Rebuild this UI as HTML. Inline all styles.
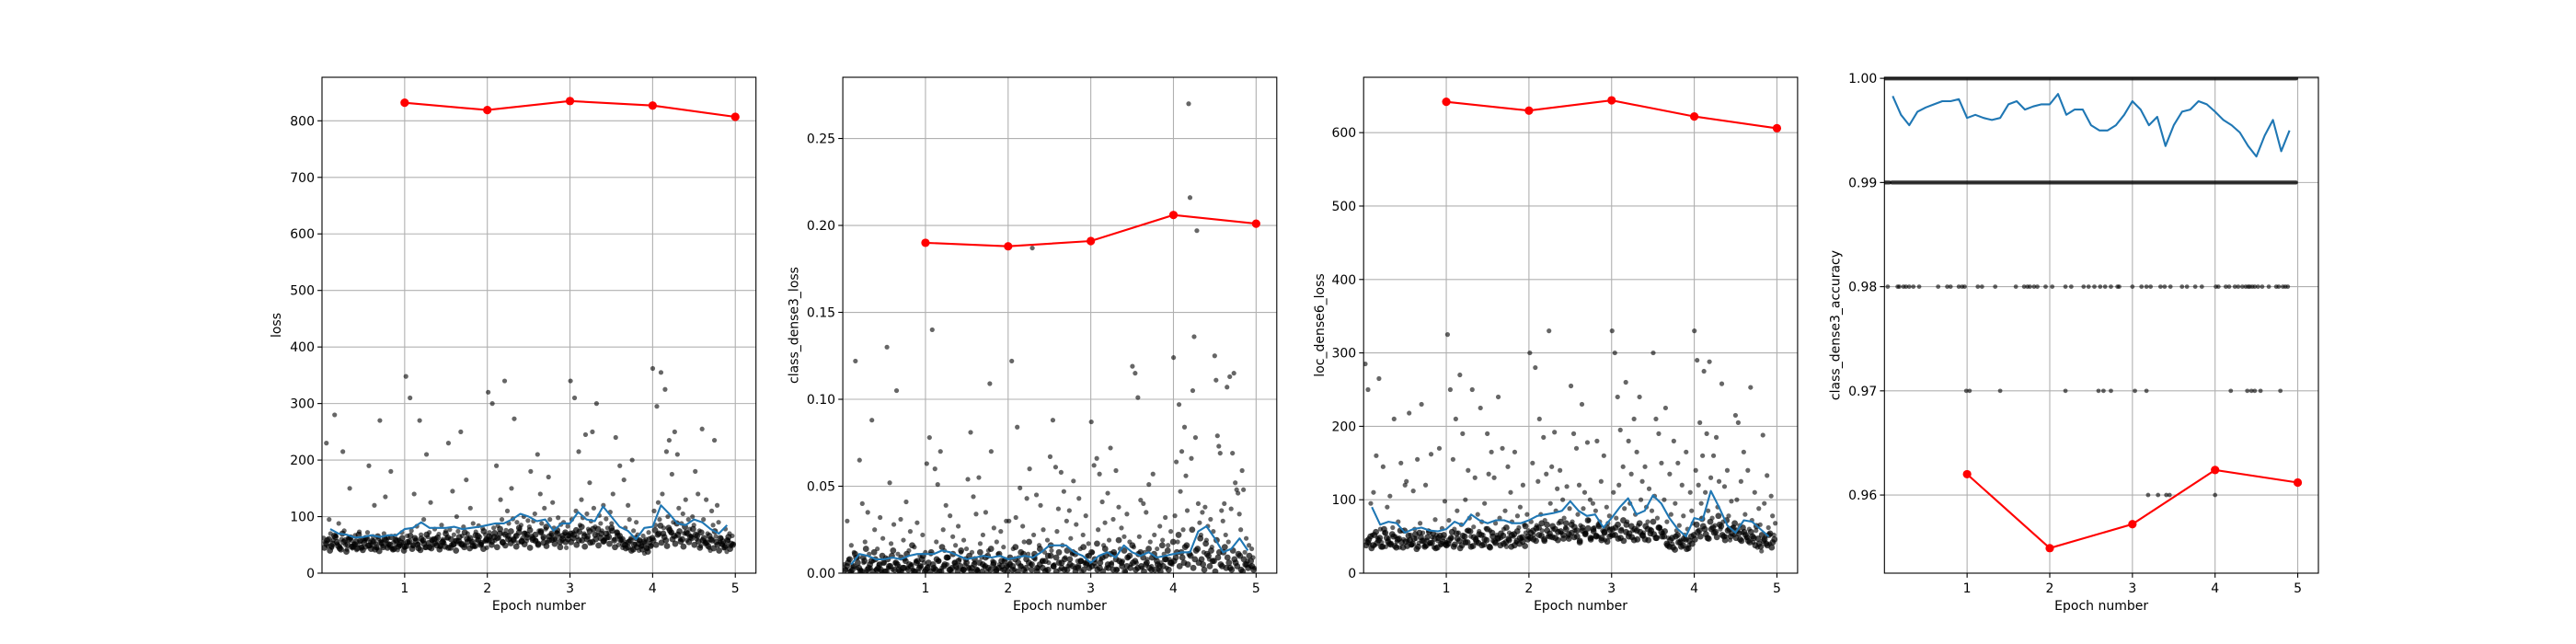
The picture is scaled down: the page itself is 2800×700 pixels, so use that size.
<!DOCTYPE html>
<html><head><meta charset="utf-8">
<style>
html,body{margin:0;padding:0;background:#fff;}
svg{display:block;font-family:"DejaVu Sans","Liberation Sans",sans-serif;}
</style></head>
<body>
<svg id="fig" width="2800" height="700" viewBox="0 0 2800 700" xmlns="http://www.w3.org/2000/svg">
<rect width="2800" height="700" fill="#fff"/>
</svg>
<script>
// ---- data ----
const epochs = [1, 2, 3, 4, 5];
const xTicks = [1, 2, 3, 4, 5];

const lossEpoch = [832, 819, 835, 827, 807];
const classLossEpoch = [0.190, 0.188, 0.191, 0.206, 0.201];
const locLossEpoch = [642, 630, 644, 622, 606];
const accEpoch = [0.962, 0.9549, 0.9572, 0.9624, 0.9612];

const lossTicks = [0, 100, 200, 300, 400, 500, 600, 700, 800];
const classLossTicks = [0, 0.05, 0.10, 0.15, 0.20, 0.25];
const classLossTickLabels = ["0.00", "0.05", "0.10", "0.15", "0.20", "0.25"];
const locLossTicks = [0, 100, 200, 300, 400, 500, 600];
const accTicks = [0.96, 0.97, 0.98, 0.99, 1.00];
const accTickLabels = ["0.96", "0.97", "0.98", "0.99", "1.00"];

const lossBatch = [62,55,230,48,95,70,45,58,280,66,52,88,47,60,215,75,50,42,63,150,58,44,52,67,41,49,73,56,46,61,
58,46,72,190,55,49,65,120,52,44,61,270,57,48,70,135,53,62,47,180,43,55,66,50,41,59,48,72,54,45,
348,66,54,310,75,49,140,60,83,52,270,68,57,95,45,210,64,72,125,58,50,78,62,55,69,47,85,60,53,74,
62,230,77,50,145,68,58,100,74,52,250,66,82,49,165,70,60,115,54,88,47,73,59,84,64,51,79,56,68,45,
320,72,65,300,80,58,190,84,62,130,95,70,340,76,110,88,60,150,96,273,66,90,54,78,85,62,100,71,57,93,
82,180,66,92,105,58,210,75,140,88,62,115,78,55,170,95,68,125,80,60,72,98,64,86,57,90,70,45,83,66,
340,95,72,310,110,64,215,85,130,98,70,245,105,78,160,92,250,115,82,300,68,102,88,75,120,60,96,80,72,108,
88,140,60,240,72,50,190,58,45,165,80,55,120,95,62,200,75,52,90,68,40,57,48,66,35,60,44,72,53,49,
362,110,85,295,125,95,355,140,80,325,215,100,235,72,175,90,250,65,210,115,60,88,105,70,130,58,95,78,66,100,
85,180,60,140,75,48,255,95,55,130,70,45,40,110,85,235,65,120,90,55,62,50,44,78,38,58,70,48,66,52];
const lossBand = [52,60,48,66,55,44,70,58,50,63,47,56,68,45,53,61,49,57,42,65,54,46,59,51,64,43,58,50,62,47,
55,66,49,57,44,61,52,68,46,59,53,63,48,56,70,45,60,51,57,64,50,72,55,62,48,67,58,53,74,60,
65,56,71,62,78,54,68,60,74,58,66,80,57,70,63,76,59,68,52,72,64,82,58,70,61,76,55,66,72,60,
70,62,76,58,82,66,60,74,55,68,78,62,56,70,64,80,58,72,66,60,50,46,58,42,62,52,48,56,44,60,
62,76,68,84,70,58,80,72,66,88,74,60,82,70,64,78,68,56,72,62,54,66,58,74,50,62,56,48,64,52];
const lossBand2 = [45,58,40,52,64,48,42,55,38,60,47,51,44,57,41,62,49,43,56,46,39,53,61,45,50,42,58,47,54,40,
48,56,43,62,50,41,58,46,53,44,60,49,42,55,47,63,45,51,40,57,52,46,61,44,55,48,66,50,43,58,
58,50,64,46,70,55,49,66,53,60,47,72,56,51,68,45,62,57,50,74,54,48,65,59,52,70,46,61,55,67,
55,68,50,73,58,47,65,54,78,60,49,70,57,63,52,75,46,66,59,51,44,55,40,50,46,58,42,53,38,48,
58,50,70,54,64,48,76,60,52,68,56,47,72,55,62,50,66,45,58,53,48,60,44,55,40,52,46,58,43,50];

const classBatch = [.005,.002,.03,.008,.001,.016,.004,.012,.122,.003,.009,.065,.002,.04,.006,.018,.001,.035,.011,.003,.088,.007,.025,.002,.014,.005,.032,.001,.02,.006,
.009,.13,.003,.052,.017,.002,.028,.006,.105,.011,.004,.031,.001,.019,.008,.041,.003,.013,.024,.005,.002,.015,.007,.029,.001,.01,.004,.022,.006,.012,
.063,.004,.078,.011,.14,.002,.06,.018,.051,.007,.07,.003,.025,.013,.039,.005,.009,.033,.001,.021,.006,.016,.003,.027,.008,.012,.002,.019,.005,.014,
.054,.003,.081,.012,.044,.006,.034,.002,.055,.017,.009,.022,.004,.035,.001,.013,.109,.07,.007,.026,.003,.018,.011,.005,.024,.002,.015,.008,.03,.004,
.03,.006,.122,.014,.002,.032,.084,.009,.049,.004,.027,.018,.001,.043,.011,.06,.005,.187,.022,.008,.045,.003,.016,.039,.007,.025,.012,.002,.019,.006,
.067,.013,.088,.005,.061,.024,.037,.002,.058,.016,.047,.009,.03,.004,.036,.02,.011,.053,.003,.028,.007,.043,.014,.001,.022,.006,.033,.01,.017,.005,
.087,.012,.062,.004,.066,.025,.057,.008,.041,.016,.029,.003,.046,.019,.072,.006,.031,.011,.059,.002,.038,.014,.026,.007,.021,.001,.034,.009,.018,.005,
.119,.015,.115,.006,.101,.021,.042,.003,.04,.012,.035,.008,.051,.018,.004,.057,.022,.009,.014,.002,.027,.006,.019,.011,.032,.003,.016,.008,.024,.005,
.124,.033,.064,.018,.097,.047,.07,.025,.084,.056,.036,.27,.216,.066,.105,.136,.078,.197,.04,.029,.022,.035,.012,.038,.019,.027,.008,.031,.015,.024,
.125,.111,.079,.073,.069,.036,.03,.04,.022,.107,.018,.113,.037,.069,.115,.052,.048,.046,.034,.025,.059,.048,.012,.02,.007,.016,.004,.014,.009,.003];
const classBand = [.004,.008,.002,.011,.006,.001,.009,.014,.003,.007,.012,.002,.005,.01,.001,.008,.004,.013,.006,.002,.009,.003,.011,.005,.016,.001,.007,.004,.01,.002,
.006,.012,.003,.008,.001,.015,.005,.009,.002,.011,.004,.007,.013,.002,.006,.01,.003,.008,.001,.012,.005,.009,.003,.014,.006,.002,.011,.004,.007,.001,
.009,.004,.015,.006,.012,.002,.008,.018,.005,.011,.003,.014,.007,.001,.01,.016,.004,.009,.012,.006,.002,.013,.008,.004,.011,.003,.007,.015,.005,.01,
.012,.006,.017,.003,.009,.014,.005,.011,.002,.008,.019,.006,.013,.004,.01,.016,.007,.003,.012,.009,.005,.014,.002,.011,.007,.004,.016,.008,.013,.006,
.018,.009,.022,.012,.006,.016,.011,.025,.008,.014,.02,.005,.017,.01,.013,.007,.019,.012,.004,.015,.009,.003,.013,.006,.011,.002,.008,.005,.01,.004];
const classBand2 = [.002,.006,.001,.004,.009,.003,.001,.007,.002,.005,.001,.008,.003,.002,.006,.001,.004,.010,.002,.005,.001,.003,.007,.002,.004,.001,.006,.003,.008,.001,
.003,.001,.005,.002,.007,.001,.004,.009,.002,.003,.006,.001,.004,.002,.008,.003,.001,.005,.002,.006,.001,.004,.010,.002,.005,.001,.003,.007,.002,.004,
.005,.002,.008,.001,.004,.011,.003,.006,.002,.009,.001,.005,.003,.007,.002,.010,.004,.001,.006,.003,.008,.002,.005,.012,.001,.004,.007,.002,.006,.003,
.004,.008,.002,.006,.001,.010,.003,.005,.012,.002,.007,.004,.001,.009,.003,.006,.002,.011,.004,.001,.006,.003,.009,.002,.005,.001,.004,.008,.002,.006,
.007,.012,.004,.009,.015,.005,.010,.003,.013,.006,.008,.002,.011,.004,.007,.001,.009,.005,.012,.003,.006,.002,.008,.004,.010,.001,.005,.003,.007,.002];

const locBatch = [285,45,250,40,95,52,110,38,160,48,265,60,42,145,55,36,90,47,105,41,62,210,50,43,70,35,150,58,46,120,
125,44,218,52,38,112,60,47,155,41,68,230,55,37,120,45,58,40,162,49,35,73,52,44,170,38,61,48,98,42,
325,72,250,48,155,60,210,85,55,270,66,190,45,100,58,140,75,50,250,63,130,48,80,57,225,70,52,95,61,190,
135,58,165,44,130,68,52,240,75,48,170,60,85,36,145,55,110,70,50,165,42,78,62,90,47,120,66,55,80,58,
300,70,150,52,280,65,125,210,80,58,185,72,135,50,330,95,145,60,192,85,115,68,140,55,100,75,62,118,50,88,
255,70,190,58,170,80,120,65,230,88,110,55,178,72,100,48,95,62,85,180,50,70,125,58,160,45,90,68,78,52,
330,110,300,75,240,120,195,60,145,88,260,70,180,95,135,58,210,80,165,65,240,100,125,55,145,90,70,115,60,85,
300,105,210,75,190,62,150,55,100,225,70,48,135,80,40,180,95,58,150,65,45,120,78,52,165,60,38,110,85,68,
330,140,290,120,205,95,160,275,110,190,85,288,130,75,160,65,185,90,125,60,258,70,118,50,140,78,45,98,62,52,
215,100,205,65,125,55,165,80,48,140,60,253,72,42,110,58,35,88,66,30,188,95,50,133,62,40,105,78,52,68];
const locBand = [42,50,38,56,45,36,60,48,40,53,37,46,58,35,43,51,39,47,33,55,44,36,49,41,54,34,48,40,52,38,
45,56,39,47,34,51,42,58,36,49,43,53,38,46,60,35,50,41,47,54,40,62,45,52,38,57,48,43,64,50,
55,46,61,52,68,44,58,50,64,48,56,70,47,60,53,66,49,58,42,62,54,72,48,60,51,66,45,56,62,50,
60,52,66,48,72,56,50,64,45,58,68,52,46,60,54,70,48,62,56,50,40,36,48,32,52,42,38,46,34,50,
52,66,58,74,60,48,70,62,56,78,64,50,72,60,54,68,58,46,62,52,44,56,48,64,40,52,46,38,54,42];
const locBand2 = [38,46,34,52,41,48,36,55,43,39,50,35,47,42,58,37,45,40,53,36,49,44,38,56,41,47,35,51,43,39,
40,48,36,54,44,38,50,42,57,37,46,41,52,39,45,36,55,43,48,38,51,42,47,36,53,44,40,49,37,46,
48,58,44,62,51,46,66,54,49,60,45,57,52,68,47,55,63,50,44,58,53,61,46,57,50,64,48,55,43,59,
52,62,47,58,44,66,54,49,60,46,56,51,64,45,58,53,48,62,50,57,38,45,35,50,42,36,47,33,44,40,
46,56,50,64,53,47,60,55,49,66,52,45,58,50,62,48,54,44,56,49,42,50,38,47,36,44,40,52,35,46];

const lossMA = [78,70,68,63,64,67,64,67,67,78,80,90,80,80,80,82,78,80,82,85,88,88,95,105,100,92,95,75,88,88,108,95,92,118,100,82,75,60,80,82,120,105,88,85,95,90,78,70,85];
const classMA = [.005,.011,.01,.008,.008,.009,.008,.01,.011,.011,.011,.013,.012,.01,.008,.009,.01,.009,.01,.008,.009,.01,.009,.012,.016,.016,.016,.012,.01,.006,.01,.012,.009,.016,.012,.01,.012,.009,.01,.011,.012,.012,.024,.027,.02,.012,.014,.02,.013];
const locMA = [90,66,70,68,55,60,62,58,57,60,70,65,80,72,68,72,72,68,68,72,78,80,82,85,98,85,78,80,62,75,90,102,80,85,106,95,75,60,50,75,72,112,90,65,55,72,70,60,50];
const accMA = [.9983,.9965,.9955,.9968,.9972,.9975,.9978,.9978,.998,.9962,.9965,.9962,.996,.9962,.9975,.9978,.997,.9973,.9975,.9975,.9985,.9965,.997,.997,.9955,.995,.995,.9955,.9965,.9978,.997,.9955,.9963,.9935,.9955,.9968,.997,.9978,.9975,.9968,.996,.9955,.9948,.9935,.9925,.9945,.996,.993,.995];

const acc100Runs = [[0.0, 4.98]];
const acc099Runs = [[0.0, 0.06], [0.09, 4.98]];
const acc098X = [0.04,0.16,0.18,0.23,0.26,0.30,0.35,0.42,0.65,0.76,0.80,0.90,0.94,0.97,1.13,1.18,1.34,1.59,1.69,1.73,1.76,1.81,1.85,1.95,2.03,2.19,2.26,2.41,2.47,2.54,2.61,2.67,2.74,2.82,2.84,3.00,3.11,3.17,3.22,3.34,3.39,3.46,3.60,3.66,3.76,3.84,4.01,4.04,4.13,4.17,4.24,4.28,4.33,4.37,4.40,4.42,4.45,4.48,4.52,4.57,4.65,4.74,4.77,4.82,4.85,4.88];
const acc097X = [0.99,1.03,1.40,2.19,2.59,2.65,2.74,3.03,3.17,4.19,4.39,4.44,4.48,4.55,4.79];
const acc096X = [3.19,3.31,3.41,3.45,4.00];

// ---- drawing ----
const NS = "http://www.w3.org/2000/svg";
const svg = document.getElementById("fig");
const AX_W = 471.7, TOP = 84, BOT = 623;
const LEFTS = [350, 916.1, 1482.2, 2048.3];
const XMIN = 0, XMAX = 5.25;

function mk(tag, attrs, parent) {
  const e = document.createElementNS(NS, tag);
  for (const k in attrs) e.setAttribute(k, attrs[k]);
  (parent || svg).appendChild(e);
  return e;
}
function maX(i) { return 0.1 * (i + 1); }

function panel(idx, ylo, yhi, ticks, tickLabels, ylabel, ylabOff, name) {
  const L = LEFTS[idx];
  const g = mk("g", {});
  
  
  const sx = v => L + (v - XMIN) / (XMAX - XMIN) * AX_W;
  const sy = v => BOT - (v - ylo) / (yhi - ylo) * (BOT - TOP);
  const clipId = "clip" + idx;
  const cp = mk("clipPath", { id: clipId }, g);
  mk("rect", { x: L, y: TOP, width: AX_W, height: BOT - TOP }, cp);
  const grid = mk("g", { stroke: "#b0b0b0", "stroke-width": 1.1 }, g);
  
  
  xTicks.forEach(t => mk("line", { x1: sx(t), x2: sx(t), y1: TOP, y2: BOT }, grid));
  ticks.forEach(t => mk("line", { x1: L, x2: L + AX_W, y1: sy(t), y2: sy(t) }, grid));
  const tk = mk("g", { "font-size": "14px", fill: "#000" }, g);
  
  
  xTicks.forEach(t => {
    mk("line", { x1: sx(t), x2: sx(t), y1: BOT, y2: BOT + 4.9, stroke: "#000", "stroke-width": 1.1 }, tk);
    const tx = mk("text", { x: sx(t), y: BOT + 21, "text-anchor": "middle" }, tk);
    tx.textContent = String(t);
  });
  ticks.forEach((t, i) => {
    mk("line", { x1: L - 4.9, x2: L, y1: sy(t), y2: sy(t), stroke: "#000", "stroke-width": 1.1 }, tk);
    const tx = mk("text", { x: L - 8, y: sy(t) + 5, "text-anchor": "end" }, tk);
    tx.textContent = tickLabels ? tickLabels[i] : String(t);
  });
  const xl = mk("text", { x: L + AX_W / 2, y: BOT + 40, "text-anchor": "middle", "font-size": "14px" }, g);
  
  
  xl.textContent = "Epoch number";
  const yx = L - ylabOff, yy = (TOP + BOT) / 2;
  const yl = mk("text", { x: yx, y: yy + 5, "text-anchor": "middle", "font-size": "14px", transform: `rotate(-90 ${yx} ${yy})` }, g);
  
  
  yl.textContent = ylabel;
  const plot = mk("g", { "clip-path": `url(#${clipId})` }, g);
  return { g, plot, sx, sy, L };
}

function scatterAt(P, arr, x0, x1, r, op, name) {
  const sg = mk("g", { fill: "#000", "fill-opacity": op }, P.plot);
  
  
  arr.forEach((v, i) => {
    const c = mk("circle", { cx: P.sx(x0 + ((x1 - x0) * i) / (arr.length - 1)), cy: P.sy(v), r: r }, sg);
    
    
  });
}
function maLine(P, arr, name) {
  const pts = arr.map((v, i) => P.sx(maX(i)).toFixed(1) + "," + P.sy(v).toFixed(1)).join(" ");
  const pl = mk("polyline", { points: pts, fill: "none", stroke: "#1f77b4", "stroke-width": 2.1, "stroke-linejoin": "round" }, P.plot);
  
  
}
function epochLine(P, arr, name) {
  const eg = mk("g", {}, P.g);
  
  
  const pts = arr.map((v, i) => P.sx(epochs[i]).toFixed(1) + "," + P.sy(v).toFixed(1)).join(" ");
  mk("polyline", { points: pts, fill: "none", stroke: "#ff0000", "stroke-width": 2.1 }, eg);
  arr.forEach((v, i) => {
    const c = mk("circle", { cx: P.sx(epochs[i]), cy: P.sy(v), r: 4.6, fill: "#ff0000" }, eg);
    
    
  });
}
function frame(P) {
  const f = mk("rect", { x: P.L, y: TOP, width: AX_W, height: BOT - TOP, fill: "none", stroke: "#000", "stroke-width": 1.1 }, P.g);
  
  
}

// Panel 1: loss
const P1 = panel(0, 0, 877, lossTicks, null, "loss", 50, "loss");
scatterAt(P1, lossBand, 0.05, 4.95, 3.4, 0.7, "loss-batch-band");
scatterAt(P1, lossBand2, 0.03, 4.97, 3.4, 0.7, "loss-batch-band-2");
scatterAt(P1, lossBatch, 0.02, 4.98, 2.6, 0.6, "loss-batch-scatter");
maLine(P1, lossMA, "loss-moving-average");
epochLine(P1, lossEpoch, "loss-epoch-line");
frame(P1);

// Panel 2: class loss
const P2 = panel(1, 0, 0.2852, classLossTicks, classLossTickLabels, "class_dense3_loss", 53.5, "class-loss");
scatterAt(P2, classBand, 0.05, 4.95, 3.4, 0.7, "class-loss-batch-band");
scatterAt(P2, classBand2, 0.03, 4.97, 3.4, 0.7, "class-loss-batch-band-2");
scatterAt(P2, classBatch, 0.02, 4.98, 2.6, 0.6, "class-loss-batch-scatter");
maLine(P2, classMA, "class-loss-moving-average");
epochLine(P2, classLossEpoch, "class-loss-epoch-line");
frame(P2);

// Panel 3: loc loss
const P3 = panel(2, 0, 675.4, locLossTicks, null, "loc_dense6_loss", 48, "loc-loss");
scatterAt(P3, locBand, 0.05, 4.95, 3.4, 0.7, "loc-loss-batch-band");
scatterAt(P3, locBand2, 0.03, 4.97, 3.4, 0.7, "loc-loss-batch-band-2");
scatterAt(P3, locBatch, 0.02, 4.98, 2.6, 0.6, "loc-loss-batch-scatter");
maLine(P3, locMA, "loc-loss-moving-average");
epochLine(P3, locLossEpoch, "loc-loss-epoch-line");
frame(P3);

// Panel 4: accuracy
const P4 = panel(3, 0.9525, 1.0001, accTicks, accTickLabels, "class_dense3_accuracy", 54, "accuracy");
function runs(P, rs, level, w, name) {
  const rg = mk("g", { stroke: "#000", "stroke-opacity": 0.8, "stroke-width": w, "stroke-linecap": "round" }, P.plot);
  
  
  rs.forEach(r => mk("line", { x1: P.sx(r[0]), x2: P.sx(r[1]), y1: P.sy(level), y2: P.sy(level) }, rg));
}
function levelDots(P, xs, level, name) {
  const dg = mk("g", { fill: "#000", "fill-opacity": 0.6 }, P.plot);
  
  
  xs.forEach(x => {
    const c = mk("circle", { cx: P.sx(x), cy: P.sy(level), r: 2.4 }, dg);
    
    
  });
}
runs(P4, acc100Runs, 1.00, 4.6, "accuracy-1.00-batches");
runs(P4, acc099Runs, 0.99, 4.2, "accuracy-0.99-batches");
levelDots(P4, acc098X, 0.98, "accuracy-0.98-batches");
levelDots(P4, acc097X, 0.97, "accuracy-0.97-batches");
levelDots(P4, acc096X, 0.96, "accuracy-0.96-batches");
maLine(P4, accMA, "accuracy-moving-average");
epochLine(P4, accEpoch, "accuracy-epoch-line");
frame(P4);
</script>
</body></html>
